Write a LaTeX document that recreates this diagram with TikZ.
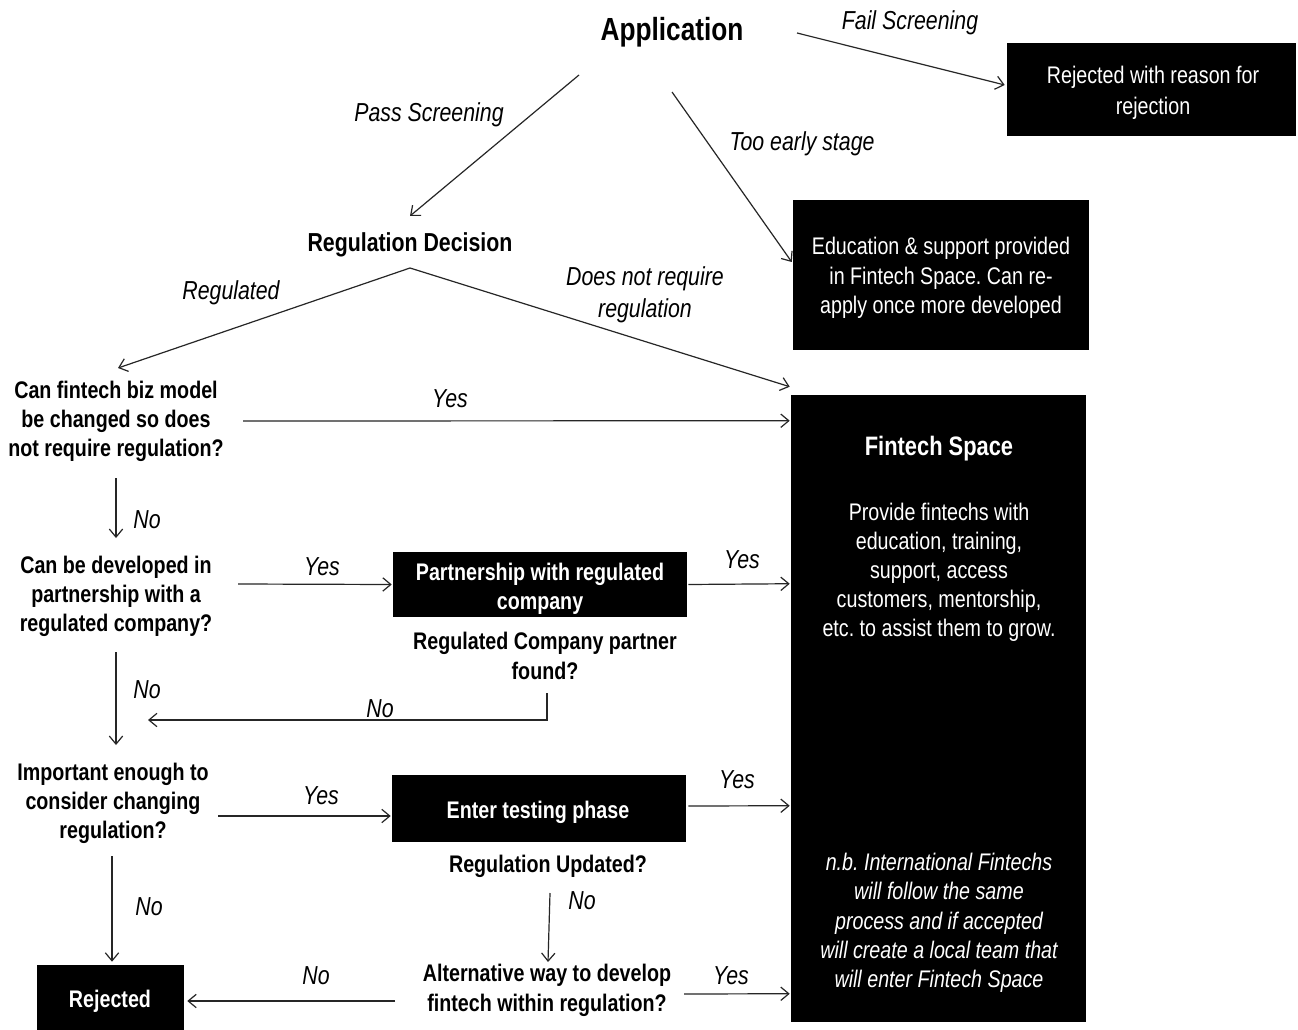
\documentclass[tikz,border=0pt]{standalone}
\usepackage{fontspec}
\setmainfont{Liberation Sans}[FakeStretch=0.82]
\usetikzlibrary{arrows.meta,calc}
\frenchspacing
\tikzset{
  blackbox/.style={fill=black, draw=none, inner sep=0pt},
  whitetxt/.style={text=white, align=center, inner sep=0pt, yshift=-1.5pt, font=\fontsize{18}{22}\selectfont},
  whitebold/.style={text=white, align=center, inner sep=0pt, yshift=-1.5pt, font=\bfseries\fontsize{18}{21.75}\selectfont},
  question/.style={align=center, inner sep=0pt, font=\bfseries\fontsize{18}{21.75}\selectfont},
  lbl/.style={align=center, inner sep=0pt, yshift=-1.5pt, font=\itshape\fontsize{19.5}{24}\selectfont},
  arr/.style={draw=black!85, line width=0.9pt, -{Straight Barb[length=6pt,width=10pt,line width=0.9pt]}},
}
\begin{document}
\frenchspacing
\begin{tikzpicture}[x=0.75pt,y=-0.75pt]
\useasboundingbox[fill=white] (0,0) rectangle (1298,1030);

% boxes
\node[blackbox, minimum width=216.75pt, minimum height=69.75pt] (rej1) at (1151.5,89.5) {};
\node[whitetxt, font=\fontsize{18}{23}\selectfont] (rej1t) at (1153,91) {Rejected with reason for\\rejection};

\node[blackbox, minimum width=222pt, minimum height=112.5pt] (edu) at (941,275) {};
\node[whitetxt] (edut) at (941,276) {Education \& support provided\\in Fintech Space. Can re-\\apply once more developed};

\node[blackbox, minimum width=221.25pt, minimum height=470.25pt] (fs) at (938.5,708.5) {};
\node[text=white, inner sep=0pt, yshift=-1.5pt, font=\bfseries\fontsize{20}{24}\selectfont] (fst) at (939,447) {Fintech Space};
\node[whitetxt, font=\fontsize{18}{21.75}\selectfont] (fsb) at (939,570) {Provide fintechs with\\education, training,\\support, access\\customers, mentorship,\\etc. to assist them to grow.};
\node[whitetxt, font=\itshape\fontsize{18}{22}\selectfont] (fsn) at (939,921) {n.b. International Fintechs\\will follow the same\\process and if accepted\\will create a local team that\\will enter Fintech Space};

\node[blackbox, minimum width=220.5pt, minimum height=48.75pt] (part) at (540,584.5) {};
\node[whitebold] (partt) at (540,587) {Partnership with regulated\\company};

\node[blackbox, minimum width=220.5pt, minimum height=50.25pt] (test) at (539,808.5) {};
\node[whitebold] (testt) at (538,810) {Enter testing phase};

\node[blackbox, minimum width=110.25pt, minimum height=50.25pt] (rej) at (110.5,998.5) {};
\node[whitebold] (rejt) at (110,999) {Rejected};

% text nodes
\node[inner sep=0pt, font=\bfseries\fontsize{24}{28}\selectfont] (app) at (672,32) {Application};
\node[inner sep=0pt, font=\bfseries\fontsize{19.5}{24}\selectfont] (regdec) at (410,245) {Regulation Decision};
\node[question] (q1) at (116,421) {Can fintech biz model\\be changed so does\\not require regulation?};
\node[question] (q2) at (116,596) {Can be developed in\\partnership with a\\regulated company?};
\node[question] (q3) at (113,803) {Important enough to\\consider changing\\regulation?};
\node[question, font=\bfseries\fontsize{18}{22.5}\selectfont] (found) at (545,656) {Regulated Company partner\\found?};
\node[question] (regupd) at (548,866) {Regulation Updated?};
\node[question, font=\bfseries\fontsize{18}{22.5}\selectfont] (alt) at (547,990) {Alternative way to develop\\fintech within regulation?};

% connectors
\draw[arr] ($(app.center)+(125,1)$) -- ($(rej1.west)+(-2,-4.5)$);
\draw[arr] ($(app.center)+(-93,43)$) -- ($(regdec.center)+(0,-29)$);
\draw[arr] ($(app.center)+(0,60)$) -- ($(edu.west)+(-1,-13)$);
\draw[arr] ($(regdec.center)+(0,23)$) -- ($(q1.center)+(2,-53)$);
\draw[arr] ($(regdec.center)+(0,23)$) -- ($(fs.north west)+(-1,-8)$);
\draw[arr] ($(q1.center)+(127,0)$) -- ($(fs.north west)+(-1,26)$);
\draw[arr] ($(q1.center)+(0,57)$) -- ($(q2.center)+(0,-58)$);
\draw[arr] ($(q2.center)+(122,-12)$) -- ($(part.west)+(-1,0)$);
\draw[arr] ($(part.east)+(1,0)$) -- ($(fs.north west)+(-1,189)$);
\draw[arr] ($(found.center)+(2,37)$) |- ($(q2.center)+(32,124)$);
\draw[arr] ($(q2.center)+(0,56)$) -- ($(q3.center)+(3,-58)$);
\draw[arr] ($(q3.center)+(105,13)$) -- ($(test.west)+(-1,7.5)$);
\draw[arr] ($(test.east)+(2,-2.5)$) -- ($(fs.north west)+(-1,411)$);
\draw[arr] ($(regupd.center)+(2,27)$) -- ($(alt.center)+(1,-28)$);
\draw[arr] ($(q3.center)+(-1,53)$) -- ($(rej.north)+(1.5,-3)$);
\draw[arr] ($(alt.center)+(137,4)$) -- ($(fs.north west)+(-1,599)$);
\draw[arr] ($(alt.center)+(-152,11)$) -- ($(rej.east)+(3,2.5)$);

% labels
\node[lbl] (l1) at (910,21) {Fail Screening};
\node[lbl] (l2) at (429,113) {Pass Screening};
\node[lbl] (l3) at (802,142) {Too early stage};
\node[lbl] (l4) at (231,291) {Regulated};
\node[lbl] (l5) at (645,293) {Does not require\\regulation};
\node[lbl] (l6) at (450,397) {Yes};
\node[lbl] (l7) at (147,518) {No};
\node[lbl] (l8) at (322,565) {Yes};
\node[lbl] (l9) at (742,558) {Yes};
\node[lbl] (l10) at (147,688) {No};
\node[lbl] (l11) at (380,707) {No};
\node[lbl] (l12) at (321,794) {Yes};
\node[lbl] (l13) at (737,778) {Yes};
\node[lbl] (l14) at (582,899) {No};
\node[lbl] (l15) at (149,905) {No};
\node[lbl] (l16) at (316,974) {No};
\node[lbl] (l17) at (731,974) {Yes};
\end{tikzpicture}
\end{document}
